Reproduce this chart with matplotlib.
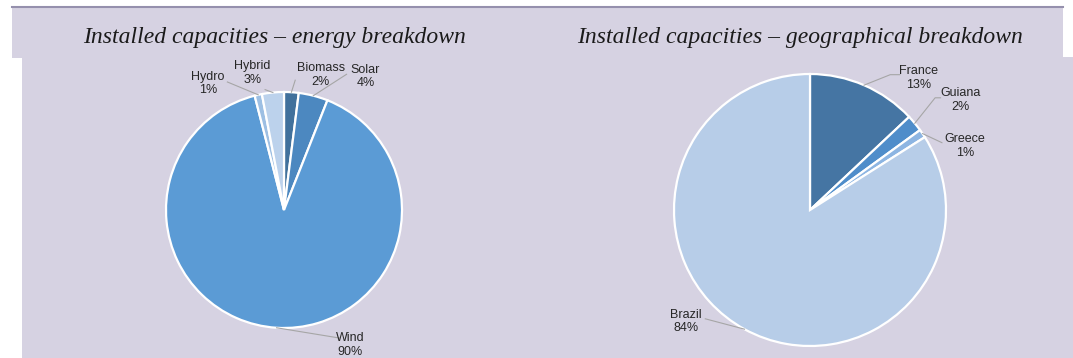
import matplotlib.pyplot as plt
from matplotlib.patches import Rectangle
import numpy as np

# energy breakdown (share of installed capacity, %)
energy_labels = ["Biomass", "Solar", "Wind", "Hydro", "Hybrid"]
energy_values = [2, 4, 90, 1, 3]
energy_colors = ["#41719c", "#4c88c0", "#5b9bd5", "#9dbfe3", "#bcd2ec"]

# geographical breakdown (%)
geo_labels = ["France", "Guiana", "Greece", "Brazil"]
geo_values = [13, 2, 1, 84]
geo_colors = ["#4575a3", "#4f8dca", "#8db5e2", "#b7cde8"]

# where each label sits (in pie radius units) and where its leader line ends
energy_text = [(0.31, 1.145), (0.69, 1.13), (0.56, -1.145), (-0.645, 1.07), (-0.27, 1.16)]
energy_elbow = [None, None, None, None, None]
energy_end = [(0.095, 1.10), (0.53, 1.15), (0.47, -1.085), (-0.48, 1.085), (-0.16, 1.02)]

geo_text = [(0.80, 0.97), (1.105, 0.81), (1.14, 0.47), (-0.91, -0.82)]
geo_elbow = [(0.59, 0.995), (0.92, 0.825), None, None]
geo_end = [(0.66, 0.995), (0.96, 0.825), (0.97, 0.495), (-0.77, -0.80)]

W, H = 1073, 358
BG = "#d6d2e2"

fig = plt.figure(figsize=(W / 100, H / 100), dpi=100, facecolor="white")


def px_rect(x0, y0, x1, y1, **kw):
    # rectangle given in pixel coords (origin at top left)
    fig.add_artist(Rectangle((x0 / W, 1 - y1 / H), (x1 - x0) / W, (y1 - y0) / H,
                             transform=fig.transFigure, lw=0, zorder=-5, **kw))


# panel backgrounds
px_rect(12, 7, 1063, 58, color=BG)
px_rect(22, 57, 1073, 358, color=BG)
fig.add_artist(plt.Line2D([12 / W, 1063 / W], [1 - 7 / H, 1 - 7 / H],
                          transform=fig.transFigure, color="#9590ad", lw=1.5,
                          zorder=-4))

fig.text(275 / W, 1 - 43 / H, "Installed capacities – energy breakdown",
         ha="center", va="baseline", fontsize=17, style="italic",
         family="Liberation Serif", color="#1a1a1a")
fig.text(800 / W, 1 - 43 / H, "Installed capacities – geographical breakdown",
         ha="center", va="baseline", fontsize=17, style="italic",
         family="Liberation Serif", color="#1a1a1a")


def draw_pie(cx, cy, r, values, colors, labels, text_pos, elbows, ends):
    ax = fig.add_axes([(cx - r) / W, 1 - (cy + r) / H, 2 * r / W, 2 * r / H])
    ax.set_axis_off()
    wedges, _ = ax.pie(values, colors=colors, startangle=90, counterclock=False,
                       radius=1, wedgeprops=dict(edgecolor="white", linewidth=1.6))
    ax.set_xlim(-1, 1)
    ax.set_ylim(-1, 1)
    for w, lab, v, tp, el, en in zip(wedges, labels, values, text_pos, elbows, ends):
        mid = np.deg2rad((w.theta1 + w.theta2) / 2)
        sx, sy = np.cos(mid), np.sin(mid)
        xs, ys = [sx], [sy]
        if el is not None:
            xs.append(el[0])
            ys.append(el[1])
        xs.append(en[0])
        ys.append(en[1])
        ax.plot(xs, ys, color="#a6a6a6", lw=0.8, clip_on=False)
        ax.text(tp[0], tp[1], f"{lab}\n{v}%", ha="center", va="center",
                fontsize=9, family="Liberation Sans", color="#262626",
                linespacing=1.15, clip_on=False)


draw_pie(284, 210, 118, energy_values, energy_colors, energy_labels,
         energy_text, energy_elbow, energy_end)
draw_pie(810, 210, 136, geo_values, geo_colors, geo_labels,
         geo_text, geo_elbow, geo_end)

fig.savefig("out.png", dpi=100, facecolor="white")
